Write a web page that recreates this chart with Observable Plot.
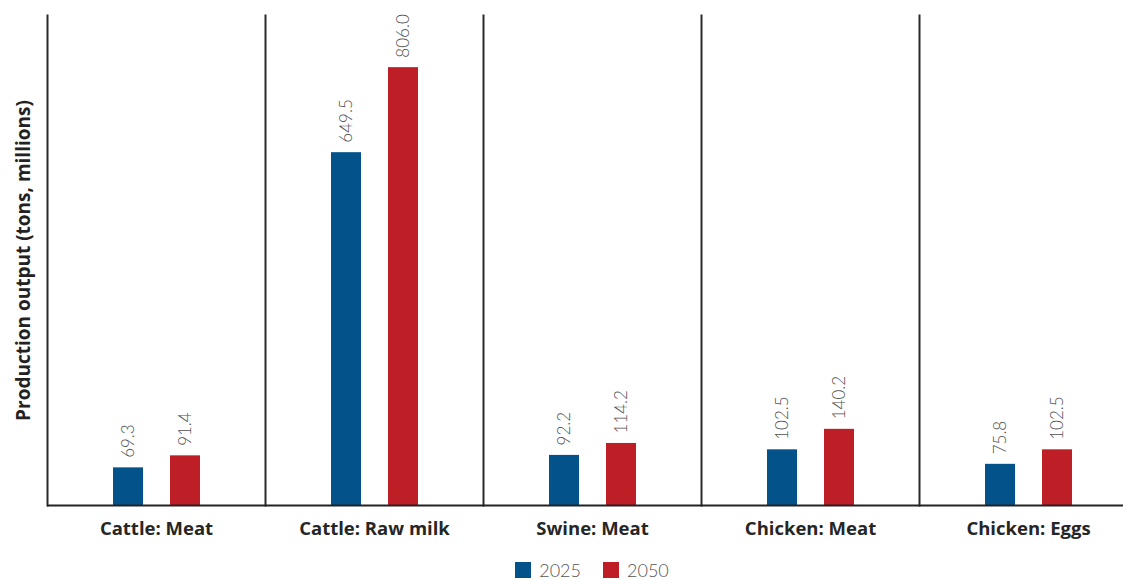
<!DOCTYPE html>
<html>
<head>
<meta charset="utf-8">
<script src="https://cdn.jsdelivr.net/npm/d3@7"></script>
<script src="https://cdn.jsdelivr.net/npm/@observablehq/plot@0.6"></script>
<style>
  html, body { margin: 0; padding: 0; background: #fff; overflow: hidden; }
  body { font-family: Lato, "Open Sans", sans-serif; width: 1123px; }
  #chart svg { max-width: none !important; display: block; }
  #legend {
    display: flex; justify-content: center; align-items: center; gap: 22px;
    margin-left: 47px; width: 1090px; height: 16px; margin-top: 12px;
    font-size: 18px; line-height: 16px; color: #555; font-weight: 300;
  }
  #legend span { display: inline-flex; align-items: center; gap: 8px; height: 16px; }
  #legend i { display: inline-block; width: 16px; height: 16px; }
</style>
</head>
<body>
<div id="chart"></div>
<div id="legend"></div>
<script>
// Livestock production output, 2025 vs 2050 (tons, millions)
const categories = ["Cattle: Meat", "Cattle: Raw milk", "Swine: Meat", "Chicken: Meat", "Chicken: Eggs"];
const years = ["2025", "2050"];
const values2025 = [69.3, 649.5, 92.2, 102.5, 75.8];
const values2050 = [91.4, 806.0, 114.2, 140.2, 102.5];
const colors = ["#03528a", "#be1e26"];

const table = categories.flatMap((category, i) => [
  {category, year: years[0], value: values2025[i]},
  {category, year: years[1], value: values2050[i]}
]);

const chart = Plot.plot({
  width: 1137,
  height: 550,
  marginLeft: 47,
  marginRight: 0,
  marginTop: 15,
  marginBottom: 45,
  style: {fontFamily: "Lato, 'Open Sans', sans-serif", background: "#fff", maxWidth: "none"},
  fx: {domain: categories, padding: 0, label: null},
  x: {domain: years, paddingInner: 0.474, paddingOuter: 1.149, axis: null},
  y: {domain: [0, 902], axis: null},
  color: {domain: years, range: colors},
  marks: [
    Plot.frame({anchor: "left", stroke: "#2a2a2a", strokeWidth: 2}),
    Plot.axisFx({
      anchor: "bottom", tickSize: 0, tickPadding: 16, label: null,
      fontSize: 18.5, fontWeight: "bold", fill: "#262626", fontFamily: "'Open Sans', sans-serif"
    }),
    Plot.axisY({
      ticks: [], tickSize: 0, label: "Production output (tons, millions)",
      labelAnchor: "center", labelArrow: "none", labelOffset: 31,
      fontSize: 19, fontWeight: "bold", color: "#222", fontFamily: "'Open Sans', sans-serif"
    }),
    Plot.barY(table, {fx: "category", x: "year", y: "value", fill: "year"}),
    Plot.text(table, {
      fx: "category", x: "year", y: "value",
      text: d => d.value.toFixed(1),
      rotate: -90, textAnchor: "start", lineAnchor: "middle", dy: -10,
      fontSize: 17, fontWeight: 300, fill: "#505050"
    }),
    Plot.ruleY([0], {stroke: "#222", strokeWidth: 2})
  ]
});
document.getElementById("chart").append(chart);

const legend = document.getElementById("legend");
years.forEach((y, i) => {
  const s = document.createElement("span");
  s.innerHTML = `<i style="background:${colors[i]}"></i>${y}`;
  legend.append(s);
});
</script>
</body>
</html>
